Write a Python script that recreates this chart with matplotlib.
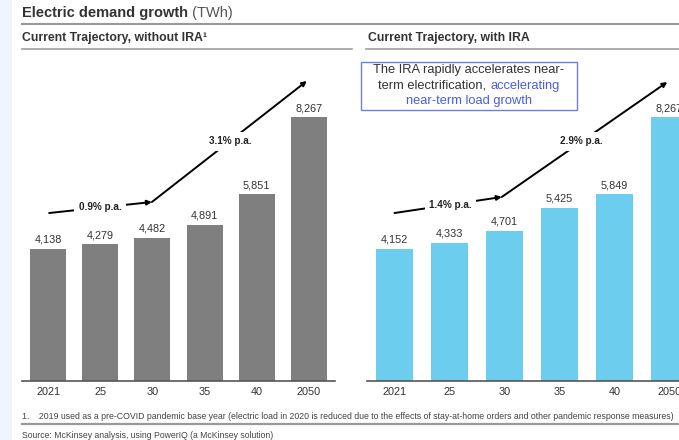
import matplotlib
matplotlib.use("Agg")
import matplotlib.pyplot as plt
from matplotlib.patches import Rectangle
from matplotlib.lines import Line2D

plt.rcParams['font.family'] = ['Liberation Sans', 'DejaVu Sans']

# ---- data ----
categories = ["2021", "25", "30", "35", "40", "2050"]
without_ira = [4138, 4279, 4482, 4891, 5851, 8267]
with_ira = [4152, 4333, 4701, 5425, 5849, 8267]
rate_labels_without = ["0.9% p.a.", "3.1% p.a."]
rate_labels_with = ["1.4% p.a.", "2.9% p.a."]

W, H = 679, 440
fig = plt.figure(figsize=(W / 100, H / 100), dpi=100)


def fx(px):
    return px / W


def fy(py):
    return 1 - py / H


# light strip on left edge
fig.add_artist(Rectangle((0, 0), fx(12), 1, transform=fig.transFigure,
                         facecolor="#eef5fc", edgecolor="none", zorder=0))

px_per_unit = 0.0319  # pixels per TWh
base_y, top_y = 381, 60
ymax = (base_y - top_y) / px_per_unit

ax1 = fig.add_axes([fx(22), fy(base_y), fx(335) - fx(22), fy(top_y) - fy(base_y)])
ax2 = fig.add_axes([fx(367), fy(base_y), fx(697) - fx(367), fy(top_y) - fy(base_y)])


def style(ax, values, color):
    x = list(range(len(values)))
    ax.bar(x, values, width=0.69, color=color, zorder=2)
    ax.set_xlim(-0.5, 5.5)
    ax.set_ylim(0, ymax)
    ax.set_xticks(x)
    ax.set_xticklabels(categories, fontsize=7.8, color="#333333")
    ax.tick_params(axis="x", length=0, pad=4)
    ax.set_yticks([])
    for s in ["top", "left", "right"]:
        ax.spines[s].set_visible(False)
    ax.spines["bottom"].set_color("#555555")
    ax.spines["bottom"].set_linewidth(1.2)
    ax.patch.set_alpha(0)
    for xi, v in zip(x, values):
        ax.annotate(f"{v:,}", xy=(xi, v), xytext=(0, 3), textcoords="offset points",
                    ha="center", va="bottom", fontsize=7.8, color="#333333",
                    annotation_clip=False)


style(ax1, without_ira, "#7f7f7f")
style(ax2, with_ira, "#6ccdee")


def growth(ax, p0, p1, p2, t1, t2, labels):
    ax.annotate("", xy=p1, xytext=p0,
                arrowprops=dict(arrowstyle="-|>", lw=1.4, color="black",
                                mutation_scale=7, shrinkA=0, shrinkB=0), zorder=3)
    ax.annotate("", xy=p2, xytext=p1,
                arrowprops=dict(arrowstyle="-|>", lw=1.4, color="black",
                                mutation_scale=7, shrinkA=0, shrinkB=0), zorder=3)
    for (tx, ty), lab in zip([t1, t2], labels):
        ax.text(tx, ty, lab, ha="center", va="center", fontsize=7.2, fontweight="bold",
                color="#222222", zorder=4,
                bbox=dict(boxstyle="square,pad=0.45", facecolor="white", edgecolor="none"))


growth(ax1, (0.02, 5266), (1.99, 5611), (4.96, 9404),
       (1.0, 5440), (3.49, 7520), rate_labels_without)
growth(ax2, (0.0, 5266), (1.95, 5768), (4.96, 9373),
       (1.02, 5525), (3.4, 7510), rate_labels_with)

# ---- headers ----
t = fig.text(fx(22), fy(13), "Electric demand growth", fontsize=10.5, fontweight="bold",
             color="#333333", ha="left", va="center")
ax1.annotate(" (TWh)", xy=(1, 0), xycoords=t, ha="left", va="bottom",
             fontsize=10.5, color="#555555", annotation_clip=False)
fig.add_artist(Line2D([fx(22), 1], [fy(24), fy(24)], transform=fig.transFigure,
                      color="#999999", lw=1.5))

fig.text(fx(22), fy(38), "Current Trajectory, without IRA\u00b9", fontsize=8.8,
         fontweight="bold", color="#333333", ha="left", va="center")
fig.text(fx(368), fy(38), "Current Trajectory, with IRA", fontsize=8.8,
         fontweight="bold", color="#333333", ha="left", va="center")
fig.add_artist(Line2D([fx(22), fx(352)], [fy(49), fy(49)], transform=fig.transFigure,
                      color="#a0a0a0", lw=1.2))
fig.add_artist(Line2D([fx(366), 1], [fy(49), fy(49)], transform=fig.transFigure,
                      color="#a0a0a0", lw=1.2))

# ---- callout box ----
fig.add_artist(Rectangle((fx(361), fy(110)), fx(577) - fx(361), fy(62) - fy(110),
                         transform=fig.transFigure, facecolor="white",
                         edgecolor="#6f7fe0", lw=1.0, zorder=5))
blue = "#4a5ee0"
cx = fx(469)
fs_box = 9.3
fig.text(cx, fy(70), "The IRA rapidly accelerates near-", fontsize=fs_box, color="#333333",
         ha="center", va="center", zorder=6)
fig.canvas.draw()
r = fig.canvas.get_renderer()
ta = fig.text(0, fy(86), "term electrification, ", fontsize=fs_box, color="#333333",
              ha="left", va="center", zorder=6)
tb = fig.text(0, fy(86), "accelerating", fontsize=fs_box, color=blue,
              ha="left", va="center", zorder=6)
wa = ta.get_window_extent(r).width / fig.bbox.width
wb = tb.get_window_extent(r).width / fig.bbox.width
start = cx - (wa + wb) / 2
ta.set_x(start)
tb.set_x(start + wa)
fig.text(cx, fy(101), "near-term load growth", fontsize=fs_box, color=blue,
         ha="center", va="center", zorder=6)

# ---- footnotes ----
fig.text(fx(22), fy(416),
         "1.    2019 used as a pre-COVID pandemic base year (electric load in 2020 is reduced due to the effects of stay-at-home orders and other pandemic response measures)",
         fontsize=6.3, color="#444444", ha="left", va="center")
fig.add_artist(Line2D([fx(22), 1], [fy(424), fy(424)], transform=fig.transFigure,
                      color="#999999", lw=1.6))
fig.text(fx(22), fy(435), "Source: McKinsey analysis, using PowerIQ (a McKinsey solution)",
         fontsize=6.2, color="#444444", ha="left", va="center")

fig.savefig("out.png", dpi=100)
